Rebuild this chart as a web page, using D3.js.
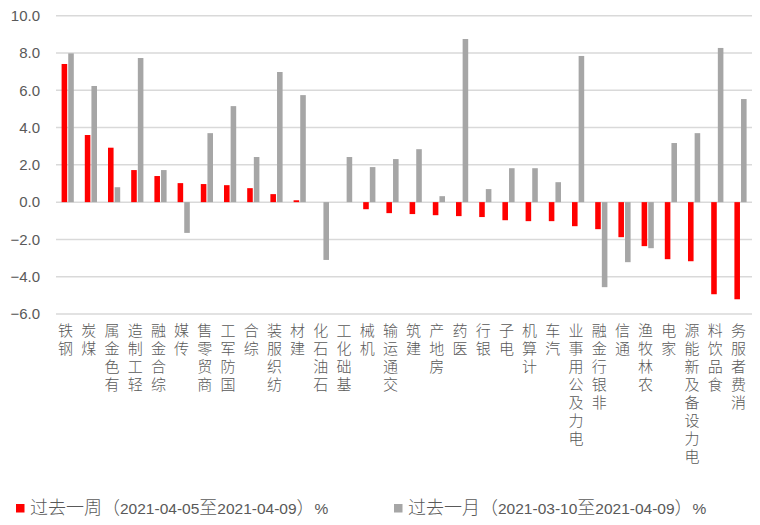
<!DOCTYPE html>
<html>
<head>
<meta charset="utf-8">
<script src="https://cdn.jsdelivr.net/npm/d3@7"></script>
<style>
  body { margin: 0; background: #fff; }
  text { font-family: "Noto Sans CJK SC", "Noto Sans", sans-serif; fill: #595959; }
  .cat { writing-mode: vertical-rl; text-orientation: upright; direction: rtl; unicode-bidi: bidi-override; }
</style>
</head>
<body>
<div id="chart"></div>
<script>
// industries
var categories = ["钢铁", "煤炭", "有色金属", "轻工制造", "综合金融", "传媒", "商贸零售", "国防军工", "综合", "纺织服装",
  "建材", "石油石化", "基础化工", "机械", "交通运输", "建筑", "房地产", "医药", "银行", "电子",
  "计算机", "汽车", "电力及公用事业", "非银行金融", "通信", "农林牧渔", "家电", "电力设备及新能源", "食品饮料", "消费者服务"];

// past week %
var weekValues = [7.41, 3.60, 2.92, 1.72, 1.40, 1.02, 0.97, 0.91, 0.75, 0.43,
  0.10, 0.00, 0.00, -0.38, -0.59, -0.64, -0.70, -0.75, -0.80, -0.97,
  -1.02, -1.02, -1.29, -1.45, -1.88, -2.36, -3.06, -3.17, -4.94, -5.21];

// past month %
var monthValues = [7.98, 6.23, 0.80, 7.73, 1.72, -1.65, 3.70, 5.15, 2.42, 6.98,
  5.74, -3.10, 2.42, 1.88, 2.31, 2.84, 0.32, 8.75, 0.70, 1.82,
  1.82, 1.07, 7.84, -4.56, -3.22, -2.47, 3.17, 3.70, 8.27, 5.53];

var yTicks = [-6, -4, -2, 0, 2, 4, 6, 8, 10];

var seriesNames = ["过去一周（2021-04-05至2021-04-09）%", "过去一月（2021-03-10至2021-04-09）%"];
var seriesColors = ["#ff0000", "#a6a6a6"];

var W = 760, H = 525;
var margin = {top: 15.7, right: 8, bottom: 211, left: 56};
var width = W - margin.left - margin.right,
    height = H - margin.top - margin.bottom;

var root = d3.select("#chart")
  .append("svg")
    .attr("width", W)
    .attr("height", H);
var svg = root.append("g")
    .attr("transform", `translate(${margin.left},${margin.top})`);

var x = d3.scaleBand()
  .domain(categories)
  .range([0, width]);

var xInner = d3.scaleBand()
  .domain([0, 1])
  .range([x.bandwidth() / 2 - 6, x.bandwidth() / 2 + 6.2])
  .paddingInner(0.16);

var y = d3.scaleLinear()
  .domain([-6, 10])
  .range([height, 0]);

// gridlines
svg.append("g")
  .selectAll("line")
  .data(yTicks)
  .join("line")
    .attr("x1", 0)
    .attr("x2", width)
    .attr("y1", d => y(d))
    .attr("y2", d => y(d))
    .attr("stroke", "#d9d9d9")
    .attr("stroke-width", 1.5);

// y axis labels
var yAxis = svg.append("g")
  .call(d3.axisLeft(y).tickValues(yTicks).tickFormat(d3.format(".1f")).tickSize(0).tickPadding(16));
yAxis.select(".domain").remove();
yAxis.selectAll("text")
  .style("font-family", "'Liberation Sans', Arial, sans-serif")
  .style("font-size", "15px")
  .attr("fill", "#595959");

// bars
var series = [weekValues, monthValues];
series.forEach(function(vals, s) {
  svg.append("g")
    .selectAll("rect")
    .data(categories)
    .join("rect")
      .attr("x", (d, i) => x(d) + xInner(s))
      .attr("width", xInner.bandwidth())
      .attr("y", (d, i) => y(Math.max(0, vals[i])))
      .attr("height", (d, i) => Math.abs(y(vals[i]) - y(0)))
      .attr("fill", seriesColors[s]);
});

// category labels: upright glyphs, read from the bottom up, last char next to the axis
svg.append("g")
  .selectAll("text")
  .data(categories)
  .join("text")
    .attr("class", "cat")
    .attr("x", d => x(d) + x.bandwidth() / 2 - 2)
    .attr("y", y(-6) + 9)
    .attr("text-anchor", "end")
    .style("font-size", "15px")
    .style("font-weight", 300)
    .style("letter-spacing", "3px")
    .text(d => d);

// legend: CJK runs larger, digits in a latin face
var legendX = [16, 394];
var legend = root.append("g");
seriesNames.forEach(function(name, s) {
  legend.append("rect")
    .attr("x", legendX[s])
    .attr("y", 504)
    .attr("width", 8.5)
    .attr("height", 8.5)
    .attr("fill", seriesColors[s]);
  var t = legend.append("text")
    .attr("x", legendX[s] + 14)
    .attr("y", 514);
  var runs = name.match(/[\u3000-\u9fff\uff00-\uffef]+|[^\u3000-\u9fff\uff00-\uffef]+/g);
  runs.forEach(function(r) {
    var cjk = /[\u3000-\u9fff\uff00-\uffef]/.test(r);
    t.append("tspan")
      .style("font-family", cjk ? "'Noto Sans CJK SC'" : "'Liberation Sans', Arial, sans-serif")
      .style("font-size", cjk ? "18px" : "15.5px")
      .style("font-weight", cjk ? 300 : 400)
      .text(r);
  });
});
</script>
</body>
</html>
